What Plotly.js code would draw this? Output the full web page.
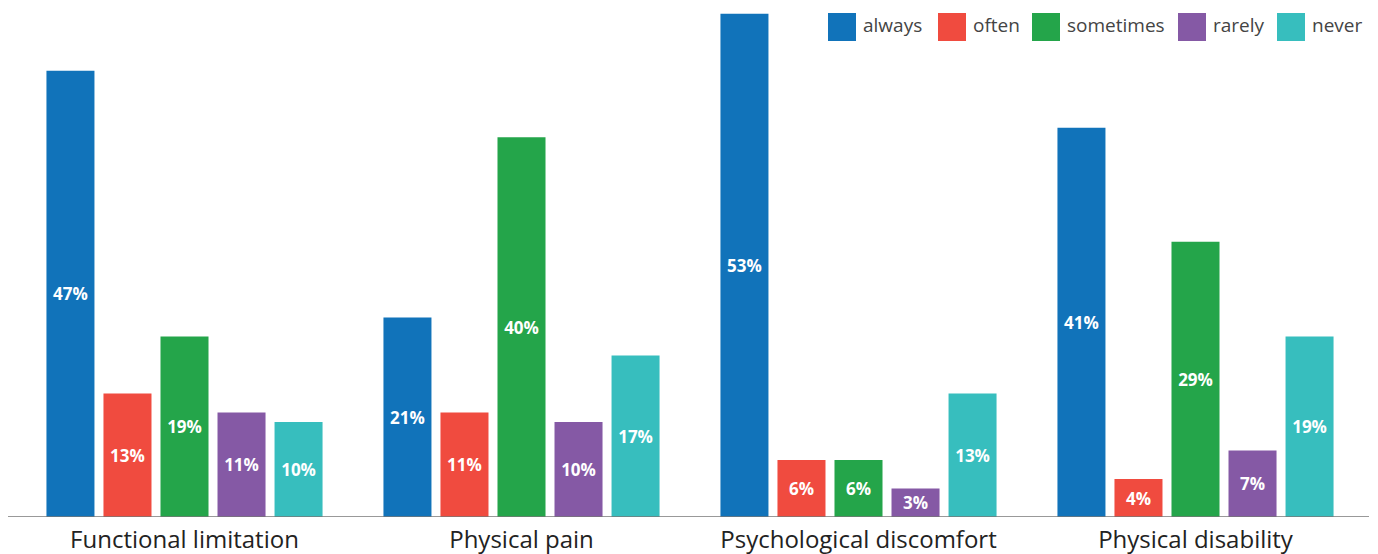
<!DOCTYPE html>
<html>
<head>
<meta charset="utf-8">
<script src="https://cdn.plot.ly/plotly-3.0.1.min.js"></script>
<style>html,body{margin:0;padding:0;background:#fff;}#chart{width:1378px;height:554px;}</style>
</head>
<body>
<div id="chart"></div>
<script>
const categories = ["Functional limitation", "Physical pain", "Psychological discomfort", "Physical disability"];
const seriesNames = ["always", "often", "sometimes", "rarely", "never"];
const always = [47, 21, 53, 41];
const often = [13, 11, 6, 4];
const sometimes = [19, 40, 6, 29];
const rarely = [11, 10, 3, 7];
const never = [10, 17, 13, 19];
const colors = ["#1173ba", "#f04b3f", "#24a54a", "#8559a5", "#37bebe"];

const allSeries = [always, often, sometimes, rarely, never];
const font = "'Open Sans', 'Noto Sans', sans-serif";

const W = 1378, H = 554;
const M = {l: 16, r: 14, t: 10, b: 37};
const PW = W - M.l - M.r, PH = H - M.t - M.b;
const px2x = px => (px - M.l) / PW;
const py2y = py => (H - M.b - py) / PH;

const traces = allSeries.map((vals, i) => ({
  type: "bar",
  name: seriesNames[i],
  x: categories,
  y: vals,
  text: vals.map(v => v + "%"),
  textposition: "inside",
  insidetextanchor: "middle",
  constraintext: "none",
  textfont: {family: font, size: 17, color: "#ffffff", weight: 700},
  marker: {color: colors[i], line: {width: 0}},
  hoverinfo: "none",
  showlegend: false
}));

// custom legend (large swatches like the reference)
const legendLeft = [828, 938, 1032, 1178, 1277];
const shapes = [{
  type: "line", xref: "paper", yref: "y",
  x0: px2x(8), x1: px2x(1369), y0: 0, y1: 0,
  line: {color: "#777", width: 1.5}
}];
const annotations = [];
seriesNames.forEach((n, i) => {
  shapes.push({
    type: "rect", xref: "paper", yref: "paper",
    x0: px2x(legendLeft[i]), x1: px2x(legendLeft[i] + 28),
    y0: py2y(41), y1: py2y(13),
    fillcolor: colors[i], line: {width: 0}
  });
  annotations.push({
    xref: "paper", yref: "paper",
    x: px2x(legendLeft[i] + 33), y: py2y(25),
    xanchor: "left", yanchor: "middle",
    text: n, showarrow: false,
    font: {family: font, size: 19, color: "#444"}
  });
});

const layout = {
  width: W,
  height: H,
  margin: M,
  paper_bgcolor: "#ffffff",
  plot_bgcolor: "#ffffff",
  barmode: "group",
  bargap: 0.154,
  bargroupgap: 0.158,
  showlegend: false,
  xaxis: {
    type: "category",
    showgrid: false,
    zeroline: false,
    showline: false,
    ticks: "",
    tickfont: {family: font, size: 24, color: "#222"},
    ticklabelstandoff: 6,
    automargin: false
  },
  yaxis: {
    range: [0, 53.4],
    showgrid: false,
    zeroline: false,
    showline: false,
    showticklabels: false,
    ticks: "",
    automargin: false
  },
  shapes: shapes,
  annotations: annotations,
  font: {family: font}
};

Plotly.newPlot("chart", traces, layout, {staticPlot: true, displayModeBar: false});
</script>
</body>
</html>
